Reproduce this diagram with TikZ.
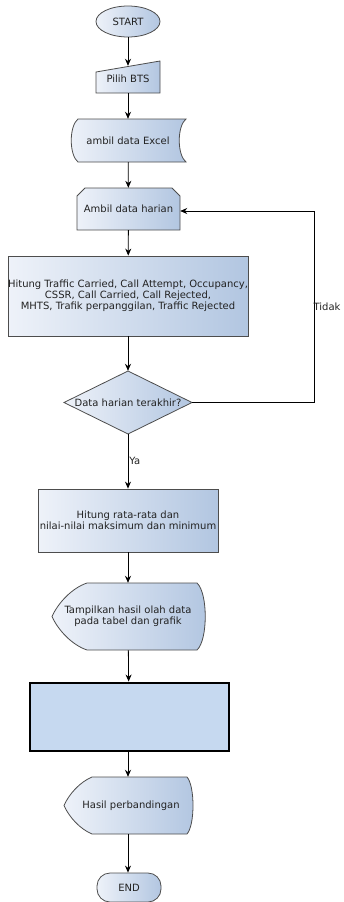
\documentclass[tikz,border=0pt]{standalone}
\usepackage{fontspec}
\setmainfont{DejaVu Sans}
\usetikzlibrary{calc,arrows.meta,shapes.geometric}
\definecolor{edgec}{HTML}{4D4D4D}
\definecolor{lightf}{HTML}{EEF2F9}
\definecolor{darkf}{HTML}{B2C6E1}
\definecolor{plainf}{HTML}{C6D9F0}
\definecolor{txtc}{HTML}{222222}
\begin{document}
\begin{tikzpicture}[x=1pt,y=-1pt,
  font=\fontsize{10}{11}\selectfont,
  txt/.style={inner sep=0pt, align=center, text=txtc},
  fillshape/.style={draw=edgec, line width=0.8pt, left color=lightf, right color=darkf},
  flow/.style={draw=black, line width=0.8pt, -{Stealth[length=7pt,width=6pt]}},
  lbl/.style={inner sep=1pt, text=txtc, anchor=west},
]
\useasboundingbox (0,0) rectangle (343,902);

% ---------- shapes drawn directly ----------
% manual input
\path[fillshape] (96,93) -- (160,93) -- (160,61) -- (96,72) -- cycle;
% stored data
\path[fillshape] (78,119) -- (186,119) .. controls (177,126) and (177,155) .. (186,162)
  -- (78,162) .. controls (69,155) and (69,126) .. (78,119) -- cycle;
% loop limit
\path[fillshape] (77,230) -- (77,196) -- (85,188) -- (172,188) -- (180,196) -- (180,230) -- cycle;
% decision
\path[fillshape] (64,402.5) -- (128,371) -- (192,402.5) -- (128,434) -- cycle;
% display 1
\path[fillshape] (87,583) -- (197,583) .. controls (208,593) and (208,640) .. (197,650)
  -- (87,650) .. controls (72,645) and (58,630) .. (52,616.5)
  .. controls (58,603) and (72,588) .. (87,583) -- cycle;
% display 2
\path[fillshape] (92,777) -- (187,777) .. controls (195,786) and (195,825) .. (187,834)
  -- (92,834) .. controls (80,829) and (69,817) .. (64,805.5)
  .. controls (69,794) and (80,782) .. (92,777) -- cycle;

% ---------- nodes ----------
\node[fillshape, ellipse, inner sep=0pt, minimum width=64pt, minimum height=31pt, text=txtc] (start) at (128,21.5) {START};
\node[txt, minimum width=64pt, minimum height=27pt] (pilih) at (128,79.5) {\raisebox{2pt}{Pilih BTS}};
\node[txt, minimum width=108pt, minimum height=43pt] (excel) at (128,140.5) {ambil data Excel};
\node[txt, minimum width=103pt, minimum height=42pt] (harian) at (128.5,209) {Ambil data harian};
\node[fillshape, txt, minimum width=238pt, minimum height=80pt] (hitung) at (128,296)
  {Hitung Traffic Carried, Call Attempt, Occupancy,\\CSSR, Call Carried, Call Rejected,\\MHTS, Trafik perpanggilan, Traffic Rejected};
\node[txt, minimum width=128pt, minimum height=63pt] (dec) at (128,402.5) {Data harian terakhir?};
\node[fillshape, txt, minimum width=180pt, minimum height=63pt] (rata) at (128,520.5)
  {Hitung rata-rata dan\\nilai-nilai maksimum dan minimum};
\node[txt, minimum width=150pt, minimum height=67pt] (tampil) at (128,616.5)
  {Tampilkan hasil olah data\\pada tabel dan grafik};
\node[draw=black, line width=2pt, fill=plainf, minimum width=199pt, minimum height=68pt, inner sep=0pt] (blank) at (129,716.5) {};
\node[txt, minimum width=125pt, minimum height=57pt] (hasil) at (128,805.5) {\hspace*{6pt}Hasil perbandingan};
\node[fillshape, rounded corners=13pt, txt, minimum width=64pt, minimum height=29pt] (end) at (129,887.5) {END};

% ---------- connectors ----------
\draw[flow] (start) -- (pilih);
\draw[flow] (pilih) -- (excel);
\draw[flow] (excel) -- (harian);
\draw[flow] (harian) -- (hitung);
\draw[flow] (hitung) -- (dec);
\draw[flow] (dec) -- node[lbl, pos=0.5] {Ya} (rata);
\draw[flow] (dec.east) -- ++(122,0) |- node[lbl, pos=0.25, xshift=-2pt] {Tidak} ($(harian.east)+(0,2)$);
\draw[flow] (rata) -- (tampil);
\draw[flow] (tampil) -- (blank);
\draw[flow] (blank.south -| hasil.north) -- (hasil);
\draw[flow] (hasil) -- (end.north -| hasil.south);
\end{tikzpicture}
\end{document}
